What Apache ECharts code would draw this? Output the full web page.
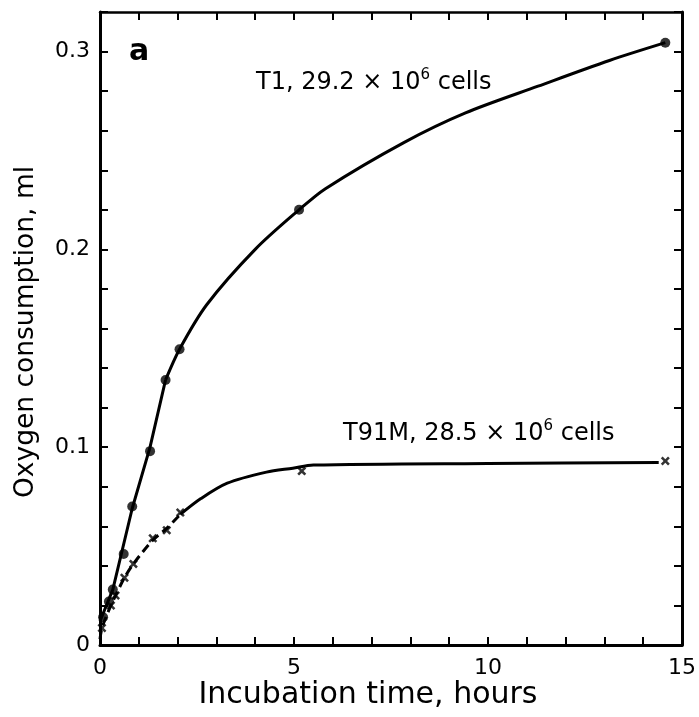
<!DOCTYPE html>
<html>
<head>
<meta charset="utf-8">
<script src="https://cdn.jsdelivr.net/npm/echarts@6/dist/echarts.min.js"></script>
<style>
html,body{margin:0;padding:0;background:#fff;}
#chart{width:699px;height:717px;}
</style>
</head>
<body>
<div id="chart"></div>
<script>
// T1 measured points (hours, ml)
const t1Points = [[0.08,0.014],[0.23,0.022],[0.33,0.028],[0.61,0.046],[0.83,0.070],[1.29,0.098],[1.69,0.134],[2.05,0.1495],[5.13,0.220],[14.57,0.3045]];
// T1 drawn curve: nearly straight rise, then a smooth bend
const t1CurveEarly = [[0,0.012],[0.33,0.028],[0.83,0.069],[1.29,0.100],[1.69,0.134]];
const t1CurveLate = [[1.69,0.134],[2.05,0.1495],[2.75,0.172],[4.0,0.200],[5.13,0.220],[5.81,0.2307],[7.83,0.254],[9.42,0.269],[11.29,0.2825],[13.13,0.2955],[14.57,0.3045]];
// T91M measured points
const t91Points = [[0.05,0.0086],[0.28,0.020],[0.40,0.025],[0.63,0.034],[0.86,0.041],[1.36,0.054],[1.72,0.058],[2.07,0.067],[5.20,0.0879],[14.57,0.093]];
// T91M drawn curve: dashed early part, solid later part
const t91CurveDashed = [[0,0.003],[0.05,0.0086],[0.28,0.020],[0.40,0.025],[0.63,0.034],[0.86,0.041],[1.36,0.053],[1.72,0.059],[2.07,0.066]];
const t91CurveSolid = [[2.07,0.066],[2.6,0.074],[3.28,0.0818],[4.29,0.0874],[4.97,0.0894],[5.5,0.0910],[10,0.0918],[14.4,0.0922]];
// tick labels
const xTickLabels = [0,5,10,15];
const yTickLabels = ['0','0.1','0.2','0.3'];

const chart = echarts.init(document.getElementById('chart'));
const FONT = 'DejaVu Sans';
const axisCommon = {
  type:'value',
  axisLine:{show:true,onZero:false,lineStyle:{color:'#000',width:3}},
  axisTick:{show:true,inside:true,length:8,lineStyle:{color:'#000',width:2}},
  splitLine:{show:false}
};
const crossPath = 'path://M0,2 L2,0 L5,3 L8,0 L10,2 L7,5 L10,8 L8,10 L5,7 L2,10 L0,8 L3,5 Z';
chart.setOption({
  animation:false,
  backgroundColor:'#fff',
  grid:{left:100,right:5,top:12,bottom:72,containLabel:false},
  xAxis:[
    Object.assign({},axisCommon,{position:'bottom',min:0,max:15,interval:1,
      axisLabel:{show:true,color:'#000',fontFamily:FONT,fontSize:22,margin:12,showMaxLabel:true,showMinLabel:true,
        formatter:v=>xTickLabels.indexOf(Math.round(v))>=0 && Math.abs(v-Math.round(v))<1e-6 ? String(Math.round(v)) : ''}}),
    Object.assign({},axisCommon,{position:'top',min:0,max:15,interval:1,axisLabel:{show:false},
      axisLine:{show:true,onZero:false,lineStyle:{color:'#000',width:2.5}}})
  ],
  yAxis:[
    Object.assign({},axisCommon,{position:'left',min:0,max:0.32,interval:0.02,
      axisLabel:{show:true,color:'#000',fontFamily:FONT,fontSize:22,margin:10,
        formatter:v=>{const k=v*10; const r=Math.round(k); return Math.abs(k-r)<1e-6 && r<yTickLabels.length ? yTickLabels[r] : '';}}}),
    Object.assign({},axisCommon,{position:'right',min:0,max:0.32,interval:0.02,axisLabel:{show:false}})
  ],
  series:[
    {type:'line',data:t1CurveEarly,smooth:false,showSymbol:false,lineStyle:{color:'#000',width:3,join:'round'},z:2},
    {type:'line',data:t1CurveLate,smooth:0.3,showSymbol:false,lineStyle:{color:'#000',width:3},z:2},
    {type:'line',data:t91CurveDashed,smooth:0.3,showSymbol:false,lineStyle:{color:'#000',width:3,type:[9,5]},z:2},
    {type:'line',data:t91CurveSolid,smooth:0.3,showSymbol:false,lineStyle:{color:'#000',width:3},z:2},
    {type:'scatter',data:t1Points,symbol:'circle',symbolSize:10,itemStyle:{color:'#000'},z:3},
    {type:'scatter',data:t91Points,symbol:crossPath,symbolSize:9,itemStyle:{color:'#000'},z:3}
  ],
  graphic:[
    {type:'text',x:256,y:83,style:{text:'{a|T1, 29.2 × 10}{s|6}{a| cells}',verticalAlign:'middle',
      rich:{a:{fontFamily:FONT,fontSize:24,color:'#000',lineHeight:30},s:{fontFamily:FONT,fontSize:15,color:'#000',lineHeight:30,verticalAlign:'top'}}}},
    {type:'text',x:343,y:434,style:{text:'{a|T91M, 28.5 × 10}{s|6}{a| cells}',verticalAlign:'middle',
      rich:{a:{fontFamily:FONT,fontSize:24,color:'#000',lineHeight:30},s:{fontFamily:FONT,fontSize:15,color:'#000',lineHeight:30,verticalAlign:'top'}}}},
    {type:'text',x:139,y:52,style:{text:'a',align:'center',verticalAlign:'middle',fontFamily:'DejaVu Sans',fontWeight:'bold',fontSize:30,fill:'#000'}},
    {type:'text',x:368,y:695,style:{text:'Incubation time, hours',align:'center',verticalAlign:'middle',fontFamily:FONT,fontSize:30,fill:'#000'}},
    {type:'text',x:26,y:332,rotation:Math.PI/2,style:{text:'Oxygen consumption, ml',align:'center',verticalAlign:'middle',fontFamily:FONT,fontSize:26.5,fill:'#000'}}
  ]
});
</script>
</body>
</html>
